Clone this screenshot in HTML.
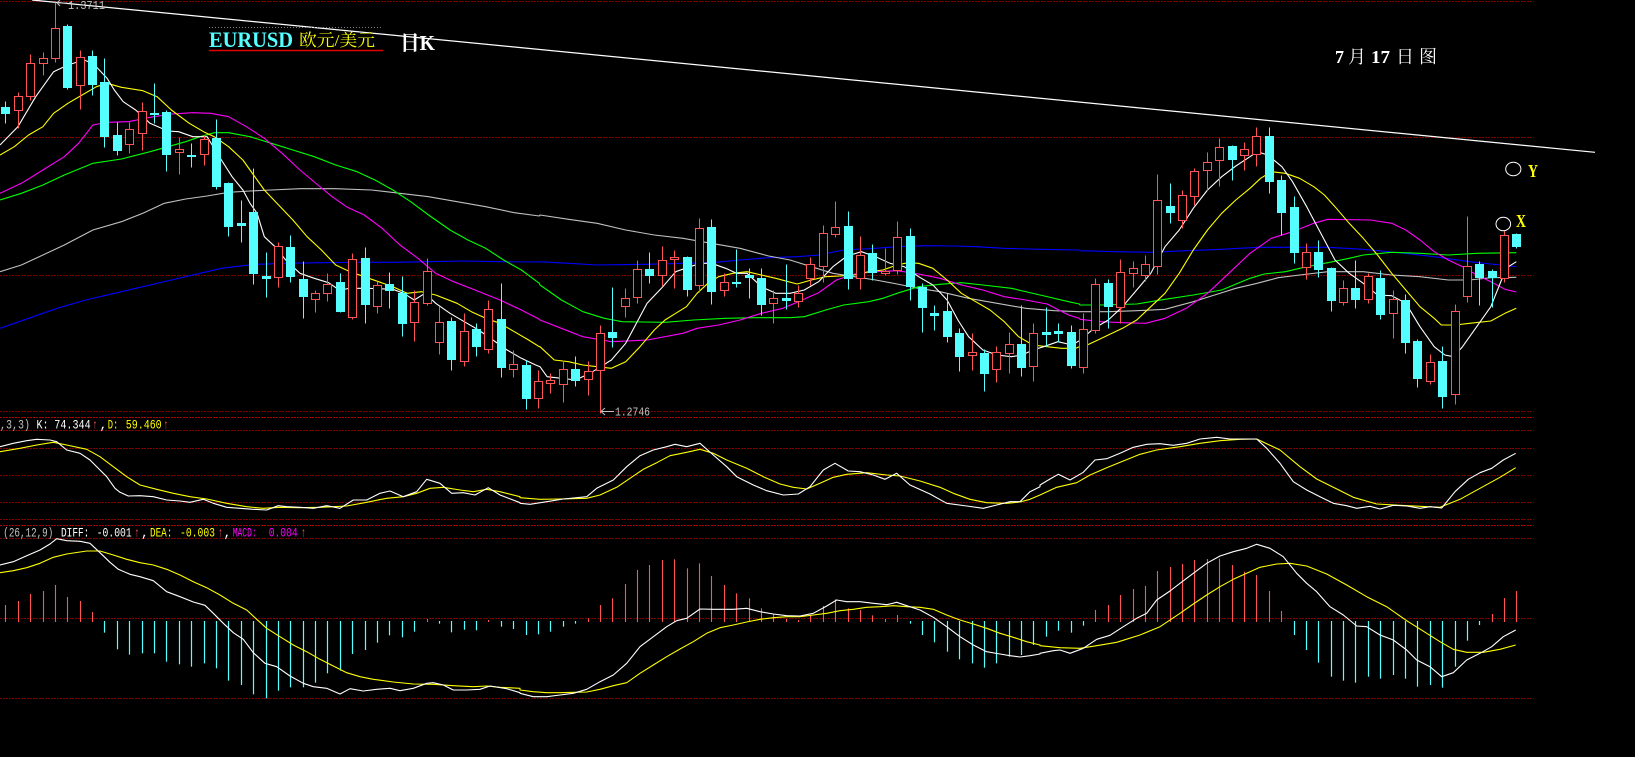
<!DOCTYPE html>
<html><head><meta charset="utf-8"><style>
html,body{margin:0;padding:0;background:#000;overflow:hidden}
svg{display:block}
text{white-space:pre}
</style></head><body>
<svg id="s" xmlns="http://www.w3.org/2000/svg" width="1635" height="757" viewBox="0 0 1635 757">
<rect x="0" y="0" width="1635" height="757" fill="#000"/>
<g id="grid" fill="none" stroke-dasharray="2 1">
<line x1="0" y1="1.5" x2="1534" y2="1.5" stroke="#800000"/>
<line x1="0" y1="137.5" x2="1534" y2="137.5" stroke="#800000"/>
<line x1="0" y1="275.5" x2="1534" y2="275.5" stroke="#800000"/>
<line x1="0" y1="411.5" x2="1534" y2="411.5" stroke="#800000"/>
<line x1="0" y1="417.5" x2="1534" y2="417.5" stroke="#b00000"/>
<line x1="0" y1="430.5" x2="1534" y2="430.5" stroke="#800000"/>
<line x1="0" y1="448.5" x2="1534" y2="448.5" stroke="#800000"/>
<line x1="0" y1="475.5" x2="1534" y2="475.5" stroke="#800000"/>
<line x1="0" y1="502.5" x2="1534" y2="502.5" stroke="#800000"/>
<line x1="0" y1="519.5" x2="1534" y2="519.5" stroke="#800000"/>
<line x1="0" y1="525.5" x2="1534" y2="525.5" stroke="#b00000"/>
<line x1="0" y1="538.5" x2="1534" y2="538.5" stroke="#800000"/>
<line x1="0" y1="618.5" x2="1534" y2="618.5" stroke="#800000"/>
<line x1="0" y1="698.5" x2="1534" y2="698.5" stroke="#800000"/>
</g>
<!-- trend line -->
<line x1="32" y1="0" x2="1595" y2="152.3" stroke="#ffffff" stroke-width="1.2"/>
<g id="mas"></g>
<g id="candles"></g>
<g id="kdj"></g>
<g id="macd"></g>
<!-- title -->
<line x1="209" y1="27.5" x2="382" y2="27.5" stroke="#808080" stroke-dasharray="1 2"/>
<text x="209" y="47" font-family="Liberation Serif, serif" font-weight="bold" font-size="22" fill="#55ffff" textLength="84" lengthAdjust="spacingAndGlyphs">EURUSD</text>
<text x="299" y="46" font-family="Liberation Serif, 'Noto Serif CJK SC', 'Noto Sans CJK SC', serif" font-size="17" fill="#ffff00" textLength="76" lengthAdjust="spacingAndGlyphs">欧元/美元</text>
<line x1="209" y1="50.5" x2="383" y2="50.5" stroke="#e00000" stroke-width="1.5"/>
<text x="400" y="50" font-family="Liberation Serif, 'Noto Serif CJK SC', 'Noto Sans CJK SC', serif" font-size="21" font-weight="bold" fill="#ffffff" textLength="35" lengthAdjust="spacingAndGlyphs">日K</text>
<g font-family="Liberation Serif, 'Noto Serif CJK SC', 'Noto Sans CJK SC', serif" font-size="18" fill="#ffffff">
<text x="1335" y="63" font-weight="bold">7</text>
<text x="1348" y="63">月</text>
<text x="1371" y="63" font-weight="bold" textLength="19" lengthAdjust="spacingAndGlyphs">17</text>
<text x="1396" y="63">日</text>
<text x="1419" y="63">图</text>
</g>
<!-- X / Y markers -->
<ellipse cx="1513.3" cy="169" rx="7.6" ry="6.8" fill="none" stroke="#ffffff" stroke-width="1"/>
<text x="1528" y="177" font-family="Liberation Serif, serif" font-weight="bold" font-size="18" fill="#ffff00" textLength="10" lengthAdjust="spacingAndGlyphs">Y</text>
<ellipse cx="1503.3" cy="224" rx="7.3" ry="6.7" fill="none" stroke="#ffffff" stroke-width="1"/>
<text x="1516" y="227" font-family="Liberation Serif, serif" font-weight="bold" font-size="18" fill="#ffff00" textLength="10" lengthAdjust="spacingAndGlyphs">X</text>
<!-- high / low labels -->
<polyline points="60,0 57,3 60,6" fill="none" stroke="#c0c0c0"/>
<line x1="57" y1="3" x2="67" y2="3" stroke="#c0c0c0"/>
<text x="68" y="9" font-family="Liberation Mono, monospace" font-size="12" fill="#c0c0c0" textLength="37" lengthAdjust="spacingAndGlyphs">1.3711</text>
<polyline points="605,408 601,411.5 605,415" fill="none" stroke="#c0c0c0"/>
<line x1="601" y1="411.5" x2="614" y2="411.5" stroke="#c0c0c0"/>
<text x="615" y="415.5" font-family="Liberation Mono, monospace" font-size="12" fill="#c0c0c0" textLength="35" lengthAdjust="spacingAndGlyphs">1.2746</text>
<!-- KDJ label -->
<g font-family="Liberation Mono, 'DejaVu Sans Mono', monospace" font-size="13">
<text x="0" y="428.5" fill="#c0c0c0" textLength="30" lengthAdjust="spacingAndGlyphs">,3,3)</text>
<text x="36.5" y="428.5" fill="#ffffff" textLength="12" lengthAdjust="spacingAndGlyphs">K:</text>
<text x="54.3" y="428.5" fill="#ffffff" textLength="36.4" lengthAdjust="spacingAndGlyphs">74.344</text>
<text x="92.5" y="428.5" fill="#ff5454" textLength="5" lengthAdjust="spacingAndGlyphs">↑</text>
<text x="99.5" y="428.5" fill="#ffffff">,</text>
<text x="107.7" y="428.5" fill="#ffff00" textLength="10.6" lengthAdjust="spacingAndGlyphs">D:</text>
<text x="125.7" y="428.5" fill="#ffff00" textLength="36" lengthAdjust="spacingAndGlyphs">59.460</text>
<text x="163.5" y="428.5" fill="#ff5454" textLength="5" lengthAdjust="spacingAndGlyphs">↑</text>
<!-- MACD label -->
<text x="3.3" y="536.5" fill="#c0c0c0" textLength="50" lengthAdjust="spacingAndGlyphs">(26,12,9)</text>
<text x="61" y="536.5" fill="#ffffff" textLength="28.3" lengthAdjust="spacingAndGlyphs">DIFF:</text>
<text x="96.7" y="536.5" fill="#ffffff" textLength="35" lengthAdjust="spacingAndGlyphs">-0.001</text>
<text x="134.5" y="536.5" fill="#ff5454" textLength="5" lengthAdjust="spacingAndGlyphs">↑</text>
<text x="141" y="536.5" fill="#ffffff">,</text>
<text x="150" y="536.5" fill="#ffff00" textLength="22.3" lengthAdjust="spacingAndGlyphs">DEA:</text>
<text x="180" y="536.5" fill="#ffff00" textLength="35" lengthAdjust="spacingAndGlyphs">-0.003</text>
<text x="218" y="536.5" fill="#ff5454" textLength="5" lengthAdjust="spacingAndGlyphs">↑</text>
<text x="223.5" y="536.5" fill="#ffffff">,</text>
<text x="232.7" y="536.5" fill="#ff00ff" textLength="24" lengthAdjust="spacingAndGlyphs">MACD:</text>
<text x="268.7" y="536.5" fill="#ff00ff" textLength="29" lengthAdjust="spacingAndGlyphs">0.004</text>
<text x="301" y="536.5" fill="#ff5454" textLength="5" lengthAdjust="spacingAndGlyphs">↑</text>
</g>
</svg>
<script>
(function(){
var NS="http://www.w3.org/2000/svg";
function el(tag,attrs,parent){var e=document.createElementNS(NS,tag);for(var k in attrs)e.setAttribute(k,attrs[k]);parent.appendChild(e);return e;}
function cx(i){return Math.round(5.4+12.386*i)+0.5;}
var RED="#ff5454",CYAN="#55ffff";
var C=[
['c',320,338,303,370],['r',287,330,276,385],['r',190,287,163,300],['r',175,190,157,224],['r',85,175,5,185],
['c',78,260,73,268],['r',172,256,150,328],['c',168,253,150,285],['c',245,407,175,440],['c',405,449,365,464],
['r',387,433,367,458],['r',333,398,305,450],['c',338,342,250,370],['c',336,461,330,512],['r',448,455,410,523],
['c',465,467,430,502],['r',418,463,405,494],['c',414,557,357,568],['c',549,677,545,707],['c',669,676,600,727],
['c',636,818,505,852],['c',828,833,757,890],['r',738,832,727,862],['c',741,827,705,845],['c',837,887,782,955],
['r',880,898,870,937],['r',853,880,818,902],['c',847,932,820,937],['r',777,950,760,958],['c',774,911,741,970],
['r',856,919,843,940],['c',853,870,817,925],['c',878,968,827,1008],['r',906,965,870,1024],['r',813,908,773,915],
['r',967,1027,917,1063],['c',963,1076,950,1110],['r',994,1082,940,1097],['c',987,1037,968,1067],['r',927,1048,900,1058],
['c',957,1100,848,1130],['r',1093,1108,1050,1130],['c',1095,1193,1080,1228],['r',1143,1195,1110,1225],['r',1140,1150,1120,1180],
['r',1108,1153,1080,1205],['c',1107,1140,1068,1157],['r',1113,1138,1082,1185],['r',999,1110,975,1240],['c',996,1012,860,1040],
['r',895,917,865,952],['r',807,890,780,908],['c',807,825,757,848],['r',780,825,737,858],['r',772,777,750,865],
['c',770,866,768,887],['r',685,855,655,877],['c',682,872,657,912],['r',847,870,818,887],['c',845,848,747,862],
['c',825,830,805,893],['c',835,912,805,945],['r',895,910,870,970],['c',895,900,792,928],['r',878,902,855,922],
['r',793,835,770,855],['r',700,797,676,845],['r',682,701,603,710],['c',679,833,633,866],['r',765,835,708,868],
['c',759,817,733,840],['r',812,820,745,826],['r',712,810,663,822],['c',708,858,685,900],['c',860,922,850,995],
['c',940,945,915,990],['c',933,1007,880,1025],['c',998,1068,985,1112],['r',1057,1066,1000,1110],['c',1060,1118,1048,1172],
['r',1057,1108,1038,1145],['r',1033,1060,995,1118],['c',1032,1100,915,1127],['r',1000,1097,968,1142],['c',996,1001,920,1037],
['c',994,998,970,1025],['c',997,1094,976,1105],['r',988,1100,940,1118],['r',853,990,835,1000],['c',850,918,838,985],
['r',817,922,777,968],['r',805,820,783,860],['r',793,826,765,843],['r',601,797,522,823],['c',618,637,548,668],
['r',586,661,570,685],['r',514,587,505,615],['r',487,510,455,570],['r',442,480,413,557],['c',437,477,435,540],
['r',448,466,427,510],['r',408,463,380,497],['c',408,542,380,578],['c',540,635,524,705],['c',621,755,588,788],
['r',757,800,730,838],['c',757,806,720,830],['c',804,899,800,932],['r',865,905,840,915],['c',865,897,780,923],
['r',828,897,820,908],['c',833,941,810,958],['r',897,938,870,1013],['c',899,1025,883,1060],['c',1022,1133,1017,1160],
['r',1085,1144,1062,1153],['c',1083,1188,1038,1225],['r',934,1183,913,1213],['r',798,888,648,905],['c',792,830,783,915],
['c',812,830,808,920],['r',706,834,690,845],['c',702,737,700,745]
];
var gc=document.getElementById('candles');
function ry(v){return Math.round(v/3)+0.5;}
for(var i=0;i<C.length;i++){
 var d=C[i],x=cx(i),bt=ry(d[1]),bb=ry(d[2]),wt=ry(d[3]),wb=ry(d[4]);
 if(d[0]=='r'){
  if(wt<bt)el('line',{x1:x,y1:wt,x2:x,y2:bt,stroke:RED},gc);
  if(wb>bb)el('line',{x1:x,y1:bb,x2:x,y2:wb,stroke:RED},gc);
  if(bb-bt<2){el('line',{x1:x-4.5,y1:bt,x2:x+4.5,y2:bt,stroke:RED,'stroke-width':2},gc);}
  else el('rect',{x:x-4,y:bt,width:8,height:bb-bt,fill:'#000',stroke:RED},gc);
 }else{
  el('line',{x1:x,y1:wt,x2:x,y2:wb,stroke:CYAN},gc);
  var h=Math.max(bb-bt+1,2);
  el('rect',{x:x-4.5,y:bt-0.5,width:9,height:h,fill:CYAN},gc);
 }
}
function mainLine(s3,s4,s5,color,parent){
 var segs=[[0,2.8,540,s3],[540,2.8,1080,s4],[1080,2.8235,9999,s5]],out=[];
 segs.forEach(function(sg){var p=sg[3];for(var j=0;j<p.length;j+=2){var X=sg[0]+p[j]/sg[1];if(X<sg[2]||sg[2]==9999)out.push(X.toFixed(1)+','+(p[j+1]/3).toFixed(1));}});
 el('polyline',{points:out.join(' '),fill:'none',stroke:color,'stroke-width':1.1,'stroke-linejoin':'round'},parent);
}
var gm=document.getElementById('mas');
mainLine([0,985,80,955,160,925,240,900,320,880,400,860,480,840,560,820,620,805,680,797,720,793,800,790,900,788,1000,787,1100,787,1200,785,1300,783,1400,785,1510,786],
[0,785,80,790,160,795,300,793,400,790,480,788,560,780,640,773,720,770,780,765,850,750,940,745,1000,740,1080,737,1160,738,1220,740,1300,745,1400,748,1510,750],
[0,752,100,755,200,757,300,752,400,748,500,742,600,742,700,742,800,748,900,758,1000,770,1100,785,1160,792,1232,800],'#0000ff',gm);
mainLine([0,815,60,795,120,765,180,735,260,690,340,665,400,640,460,610,520,597,580,588,640,577,700,573,760,570,840,566,940,566,1040,570,1120,580,1200,590,1280,605,1360,620,1440,638,1510,648],
[0,645,80,658,160,670,240,690,320,705,400,715,480,730,560,745,640,768,700,780,760,800,820,820,880,830,940,840,1000,852,1060,865,1120,875,1200,895,1280,910,1360,925,1440,932,1510,935],
[0,935,80,935,160,932,240,928,320,905,380,885,440,865,500,850,560,833,620,825,700,815,800,815,880,825,960,830,1040,840,1100,840,1160,833,1232,832],'#c0c0c0',gm);
mainLine([0,600,60,580,120,555,180,525,260,490,340,477,420,455,470,440,520,425,560,410,600,398,640,398,700,410,760,430,820,450,880,470,940,495,1000,515,1050,540,1100,570,1150,605,1200,645,1260,690,1310,720,1360,745,1410,780,1460,810,1510,850],
[0,855,60,900,120,935,180,955,230,965,350,967,430,960,520,955,600,953,700,953,740,950,800,930,850,915,920,905,960,895,1000,880,1060,860,1120,853,1180,848,1240,855,1320,865,1400,885,1480,905,1510,912],
[0,915,60,915,160,912,240,898,320,885,400,870,480,835,520,822,580,815,640,800,700,788,760,775,800,765,880,757,960,760,1040,765,1120,760,1232,758],'#00ff00',gm);
mainLine([0,580,60,550,120,510,180,470,220,430,260,375,300,367,360,365,420,352,480,342,540,338,590,340,640,350,690,380,740,415,790,460,840,510,890,555,930,590,970,620,1020,645,1070,685,1120,735,1170,775,1220,820,1270,845,1330,870,1400,900,1460,930,1510,958],
[0,960,60,985,120,1010,200,1025,300,1020,400,1000,440,985,500,975,560,960,620,940,680,925,720,907,780,878,830,840,880,822,940,815,1000,812,1060,822,1120,835,1180,855,1240,870,1300,890,1360,900,1420,912,1480,945,1510,955],
[0,958,60,965,120,968,185,970,240,955,300,925,360,880,420,820,480,760,540,715,600,695,660,670,700,658,820,660,880,670,920,690,960,720,1000,755,1040,780,1080,800,1120,825,1160,845,1200,868,1232,876],'#ff00ff',gm);
mainLine([0,465,40,440,80,405,120,380,150,340,190,310,230,285,270,260,300,250,340,262,400,272,440,290,480,330,530,370,570,395,600,410,640,440,680,480,700,510,740,570,780,615,820,660,860,710,900,750,940,795,980,815,1020,830,1060,845,1100,860,1140,880,1180,875,1220,885,1280,910,1320,935,1360,955,1400,970,1440,995,1480,1020,1510,1040],
[0,1040,40,1080,80,1085,120,1095,160,1100,200,1105,240,1085,280,1040,320,990,350,960,380,940,410,920,440,880,470,850,500,830,540,820,580,815,620,825,660,835,720,852,760,840,800,830,840,828,880,825,920,815,960,810,1000,795,1030,788,1060,790,1100,805,1140,840,1180,880,1220,905,1260,930,1300,965,1340,1010,1380,1035,1420,1040,1460,1045,1500,1045,1510,1040],
[0,1045,40,1025,80,1005,120,985,160,960,200,920,240,880,280,820,320,750,360,690,400,640,440,600,480,565,510,535,540,515,580,520,620,535,660,560,690,585,720,620,760,670,800,715,840,765,880,820,920,870,960,920,1000,955,1020,975,1060,975,1100,970,1160,963,1200,940,1232,925],'#ffff00',gm);
mainLine([0,435,50,380,100,290,150,215,190,195,235,180,260,190,300,235,320,270,345,305,380,330,420,370,470,393,500,395,540,410,580,410,620,480,650,530,680,570,700,610,720,640,740,710,770,740,800,780,840,820,880,835,920,848,950,870,980,865,1030,865,1100,868,1130,880,1160,900,1190,880,1220,910,1260,940,1300,965,1340,990,1380,1020,1420,1050,1460,1075,1500,1095],
[0,1100,20,1130,60,1135,100,1140,140,1120,170,1100,200,1080,240,1030,270,970,300,910,340,865,380,815,420,800,450,790,480,790,520,805,550,820,580,820,620,860,660,880,700,880,740,870,780,845,820,800,860,768,900,755,940,770,980,790,1020,800,1060,830,1100,855,1140,900,1170,960,1200,1010,1240,1050,1280,1065,1320,1070,1350,1065,1380,1050,1410,1040,1450,1025,1490,1035,1510,1022],
[0,1020,40,985,80,960,120,920,160,870,200,820,240,740,280,690,320,625,360,570,400,530,440,498,480,470,500,455,530,465,570,500,600,545,640,620,680,700,720,780,760,820,800,850,840,885,880,887,920,910,960,980,1000,1040,1030,1065,1055,1070,1080,1040,1120,980,1160,920,1190,840,1210,800,1232,785],'#ffffff',gm);

function lowLine(s6,s7,s8,color,parent){
 var segs=[[0,s6],[520,s7],[1040,s8]],out=[];
 segs.forEach(function(sg){var p=sg[1];for(var j=0;j<p.length;j+=2){out.push((sg[0]+p[j]/3).toFixed(1)+','+(400+p[j+1]/3).toFixed(1));}});
 el('polyline',{points:out.join(' '),fill:'none',stroke:color,'stroke-width':1.1,'stroke-linejoin':'round'},parent);
}
var gk=document.getElementById('kdj');
lowLine([0,155,60,145,110,135,160,127,200,135,260,148,300,170,340,200,380,230,420,255,470,268,520,280,570,290,620,297,680,310,740,320,790,325,840,322,900,323,960,322,1000,320,1040,318,1100,307,1160,295,1210,290,1250,280,1290,265,1330,262,1380,270,1420,275,1460,268,1500,275,1560,290],
[0,293,60,298,120,297,200,295,240,285,290,262,330,235,370,208,410,188,450,167,500,157,540,148,580,160,620,180,680,205,730,230,780,252,820,262,860,267,900,250,940,232,980,223,1040,218,1100,225,1140,228,1200,243,1260,262,1300,280,1350,298,1400,308,1460,310,1500,306,1530,298,1560,285],
[0,285,50,262,110,248,150,225,200,203,250,183,300,163,350,150,420,140,480,130,540,122,600,118,650,117,720,150,780,200,830,237,880,262,940,292,1010,312,1080,316,1140,319,1200,322,1260,298,1320,265,1380,232,1427,203],'#ffff00',gk);
lowLine([0,140,40,130,80,122,110,118,150,120,170,125,200,150,240,160,270,180,300,210,320,230,345,265,360,277,385,288,420,287,460,290,500,300,540,303,570,307,610,298,640,310,680,322,720,325,760,328,800,330,835,317,860,320,900,322,940,325,980,317,1020,325,1060,300,1100,300,1140,280,1170,273,1210,290,1250,275,1280,238,1320,250,1355,280,1390,278,1425,285,1465,263,1500,285,1560,308],
[0,310,30,313,80,305,130,297,200,290,230,265,280,240,320,200,360,167,400,150,440,140,465,133,500,140,540,130,580,165,620,200,650,230,700,255,740,272,790,285,835,282,870,260,910,210,945,190,985,213,1020,215,1060,225,1095,238,1130,220,1170,255,1230,282,1280,310,1340,318,1390,325,1430,315,1470,305,1500,305,1530,275,1560,260],
[0,255,30,237,55,223,90,240,130,217,165,180,200,176,240,160,280,142,320,133,360,131,400,136,440,130,480,117,530,112,570,117,650,117,680,145,720,190,760,245,800,270,840,290,880,310,920,317,950,325,990,319,1020,327,1060,316,1100,318,1140,325,1170,320,1205,324,1245,275,1285,238,1320,218,1355,205,1390,180,1427,160],'#ffffff',gk);

var gd=document.getElementById('macd');
var B=['r',615,'r',603,'r',582,'r',573,'r',555,'r',591,'r',603,'r',636,'c',698,'c',748,
'c',764,'c',760,'c',760,'c',785,'c',793,'c',800,'c',790,'c',805,'c',842,'c',855,
'c',883,'c',895,'c',872,'c',862,'c',862,'c',848,'c',820,'c',812,'c',762,'c',750,
'c',728,'c',706,'c',712,'c',695,'r',657,'c',671,'c',697,'c',689,'c',691,'r',660,
'c',680,'c',687,'c',705,'c',703,'c',695,'c',680,'c',671,'r',655,'r',615,'r',595,
'r',552,'r',510,'r',495,'r',480,'r',478,'r',505,'r',490,'r',528,'r',555,'r',580,
'r',595,'r',625,'r',642,'r',657,'r',660,'r',646,'r',618,'r',598,'r',625,'r',630,
'r',646,'r',657,'r',645,'c',671,'c',705,'c',727,'c',755,'c',778,'c',790,'c',803,
'c',790,'c',770,'c',765,'c',735,'c',710,'c',692,'c',698,'c',677,'r',630,'r',615,
'r',585,'r',567,'r',558,'r',513,'r',501,'r',492,'r',480,'r',477,'r',476,'r',495,
'r',515,'r',525,'r',573,'r',633,'c',705,'c',750,'c',788,'c',830,'c',842,'c',848,
'c',830,'c',836,'c',825,'c',836,'c',860,'c',855,'c',863,'c',800,'c',722,'c',675,
'r',642,'r',594,'r',573];
for(var k=0;k<B.length/2;k++){
 var col=B[2*k],yy=400+B[2*k+1]/3,x=cx(k);
 if(col=='r'){el('line',{x1:x,y1:622,x2:x,y2:Math.min(yy,620),stroke:RED,'stroke-width':1.1},gd);}
 else{el('line',{x1:x,y1:621,x2:x,y2:Math.max(yy,623),stroke:CYAN,'stroke-width':1.2},gd);}
}
lowLine([0,518,40,512,80,503,120,490,160,472,200,462,260,453,300,453,340,465,380,478,420,488,460,495,500,508,540,525,580,545,620,563,660,585,700,610,740,630,770,658,800,685,840,710,880,735,920,755,960,778,1000,798,1040,818,1080,830,1120,838,1180,846,1240,852,1300,853,1360,857,1420,860,1460,858,1500,862,1560,865],
[0,870,40,875,80,878,120,878,160,877,200,876,240,868,280,857,320,848,360,820,400,795,440,770,480,747,520,725,560,700,600,683,640,675,680,666,720,658,760,653,800,650,840,650,880,645,920,640,960,632,1000,628,1040,622,1080,620,1120,617,1160,620,1200,622,1240,628,1280,645,1320,660,1360,672,1400,685,1440,700,1480,712,1520,725,1560,735],
[0,737,60,743,120,745,170,737,230,727,300,705,360,680,420,640,460,612,500,585,540,560,580,538,620,520,660,502,710,492,750,490,800,498,860,522,920,555,980,590,1040,620,1100,662,1160,700,1200,725,1240,748,1280,757,1330,757,1380,748,1427,735],'#ffff00',gd);
lowLine([0,495,40,485,80,467,120,450,150,432,170,416,200,422,240,424,270,430,300,458,330,487,355,508,390,523,420,530,460,542,500,575,540,590,580,606,615,616,640,640,670,670,700,698,730,718,760,758,795,790,830,800,870,828,910,850,940,860,980,865,1020,882,1050,866,1090,873,1130,868,1170,865,1200,872,1240,865,1280,850,1300,848,1330,855,1360,870,1400,870,1440,868,1470,858,1520,866,1560,878],
[0,880,40,890,80,890,120,885,160,880,200,868,240,845,280,825,320,790,360,740,400,710,440,680,470,662,500,655,540,627,580,628,640,628,680,625,720,635,760,642,800,647,840,648,880,640,920,618,950,600,980,605,1020,605,1060,610,1100,614,1130,607,1160,617,1200,630,1240,652,1280,680,1320,710,1360,735,1400,755,1440,762,1470,767,1500,771,1530,767,1560,762],
[0,760,40,752,60,750,90,760,130,745,170,718,210,706,250,680,290,655,320,640,350,600,390,573,420,550,460,520,500,490,540,468,580,455,620,445,650,433,690,445,730,470,770,520,800,550,830,575,870,620,910,645,950,678,980,680,1020,705,1060,720,1100,750,1130,780,1170,800,1205,830,1240,818,1280,780,1320,760,1355,740,1390,710,1427,690],'#ffffff',gd);
})();
</script>
</body></html>
